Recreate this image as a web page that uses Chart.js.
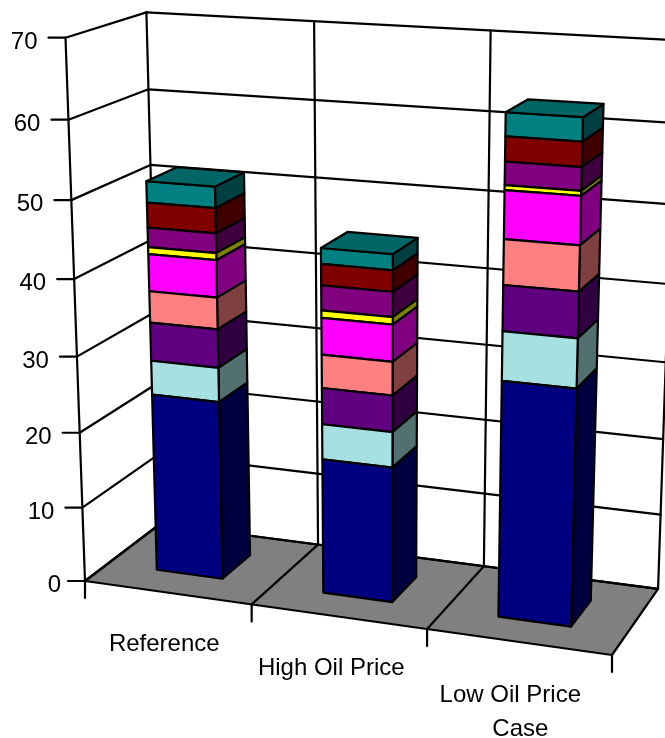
<!DOCTYPE html>
<html>
<head>
<meta charset="utf-8">
<title>Stacked columns by oil price case</title>
<script src="https://cdn.jsdelivr.net/npm/chart.js@4/dist/chart.umd.min.js"></script>
<style>
  html, body { margin: 0; padding: 0; background: #fff; }
  canvas { display: block; }
</style>
</head>
<body>
<canvas id="barChart" width="665" height="738"></canvas>
<script>
const categories = ["Reference", "High Oil Price", ["Low Oil Price", "Case"]];

// one array per stack layer, bottom to top
const layer1 = [23.8, 17.8, 30.4];
const layer2 = [4.5, 4.6, 6.2];
const layer3 = [5.0, 4.7, 5.7];
const layer4 = [4.1, 4.3, 5.6];
const layer5 = [4.8, 4.7, 5.9];
const layer6 = [0.9, 0.95, 0.6];
const layer7 = [2.5, 3.15, 2.8];
const layer8 = [3.2, 2.7, 3.0];
const layer9 = [2.7, 2.0, 2.85];

const layers = [layer1, layer2, layer3, layer4, layer5, layer6, layer7, layer8, layer9];
const layerColors = [
  [0, 0, 128], [166, 224, 224], [96, 0, 128], [255, 128, 128], [255, 0, 255],
  [255, 255, 0], [128, 0, 128], [128, 0, 0], [0, 128, 128]
];

const FONT = '24px "Liberation Sans", Arial, sans-serif';
const LINE = 2.2;

// perspective box: screen spots of the origin and of the far end of each axis,
// with the homogeneous weight of each far end
const O = [85, 581], U = [612, 655], V = [65.5, 37.7], W = [160, 524];
const wU = 0.925, wV = 0.938, wW = 1.065;

function project(u, v, w) {
  const d = 1 + u * (wU - 1) + v * (wV - 1) + w * (wW - 1);
  return [0, 1].map(i =>
    (O[i] + u * (wU * U[i] - O[i]) + v * (wV * V[i] - O[i]) + w * (wW * W[i] - O[i])) / d);
}

function rgb(c, f) {
  return "rgb(" + c.map(n => Math.round(n * f)).join(",") + ")";
}

function poly(ctx, pts, fill) {
  ctx.beginPath();
  pts.forEach((p, i) => (i ? ctx.lineTo(p[0], p[1]) : ctx.moveTo(p[0], p[1])));
  ctx.closePath();
  if (fill) {
    ctx.fillStyle = fill;
    ctx.fill();
  }
  ctx.lineWidth = LINE;
  ctx.strokeStyle = "#000";
  ctx.stroke();
}

function line(ctx, a, b) {
  ctx.beginPath();
  ctx.moveTo(a[0], a[1]);
  ctx.lineTo(b[0], b[1]);
  ctx.lineWidth = LINE;
  ctx.strokeStyle = "#000";
  ctx.stroke();
}

// flat chart-area pixels to box coordinates
function toU(chart, px) {
  const a = chart.chartArea;
  return (px - a.left) / (a.right - a.left);
}
function toV(chart, px) {
  const a = chart.chartArea;
  return (a.bottom - px) / (a.bottom - a.top);
}

const DEPTH_FRONT = 0.3, DEPTH_BACK = 0.7;

// every stacked segment is drawn as a front and a side face of its column
Chart.BarElement.prototype.draw = function (ctx) {
  const chart = this.$chart3d;
  if (!chart) return;
  const u0 = toU(chart, this.x - this.width / 2);
  const u1 = toU(chart, this.x + this.width / 2);
  const v0 = toV(chart, this.base);
  const v1 = toV(chart, this.y);
  const c = this.options.backgroundColor.match(/\d+/g).map(Number);
  ctx.save();
  ctx.lineJoin = "round";
  poly(ctx, [project(u1, v0, DEPTH_FRONT), project(u1, v0, DEPTH_BACK),
             project(u1, v1, DEPTH_BACK), project(u1, v1, DEPTH_FRONT)], rgb(c, 0.5));
  poly(ctx, [project(u0, v0, DEPTH_FRONT), project(u1, v0, DEPTH_FRONT),
             project(u1, v1, DEPTH_FRONT), project(u0, v1, DEPTH_FRONT)], rgb(c, 1));
  ctx.restore();
};

const box3d = {
  id: "box3d",
  beforeDatasetsDraw(chart) {
    const ctx = chart.ctx;
    const { x, y } = chart.scales;
    const n = categories.length;
    chart.getSortedVisibleDatasetMetas().forEach(m => m.data.forEach(el => { el.$chart3d = chart; }));

    ctx.save();
    ctx.lineCap = "round";
    ctx.lineJoin = "round";

    // floor
    poly(ctx, [project(0, 0, 0), project(1, 0, 0), project(1, 0, 1), project(0, 0, 1)], "#808080");
    for (let i = 1; i < n; i++) {
      line(ctx, project(i / n, 0, 0), project(i / n, 0, 1));
    }

    // walls and grid, one pass per y tick
    y.ticks.forEach(t => {
      const v = toV(chart, y.getPixelForValue(t.value));
      const a = project(0, v, 0), b = project(0, v, 1), c = project(1, v, 1);
      line(ctx, a, b);
      line(ctx, b, c);
      line(ctx, [a[0] - 17, a[1]], a);
      ctx.font = FONT;
      ctx.fillStyle = "#000";
      ctx.textAlign = "right";
      ctx.textBaseline = "alphabetic";
      ctx.fillText(String(t.value), a[0] - 17 - (t.value === 0 ? 7 : 11), a[1] + 11);
    });
    line(ctx, project(0, 0, 0), project(0, 1, 0));
    for (let i = 0; i <= n; i++) {
      line(ctx, project(i / n, 0, 1), project(i / n, 1, 1));
      const p = project(i / n, 0, 0);
      line(ctx, p, [p[0], p[1] + 17]);
    }

    // category labels under the front edge
    const labelNudgeX = [[-3], [-7], [-8, 2]];
    const labelNudgeY = [0, 0, 2];
    ctx.font = FONT;
    ctx.fillStyle = "#000";
    ctx.textAlign = "center";
    ctx.textBaseline = "alphabetic";
    categories.forEach((label, i) => {
      const p = project(toU(chart, x.getPixelForTick(i)), 0, 0);
      [].concat(label).forEach((text, k) => {
        ctx.fillText(text, p[0] + labelNudgeX[i][k], p[1] + 58 + labelNudgeY[i] + k * 34);
      });
    });
    ctx.restore();
  },
  afterDatasetsDraw(chart) {
    // lid on top of each column, taken from the last stack layer
    const ctx = chart.ctx;
    const meta = chart.getDatasetMeta(layers.length - 1);
    ctx.save();
    ctx.lineJoin = "round";
    meta.data.forEach(el => {
      const u0 = toU(chart, el.x - el.width / 2);
      const u1 = toU(chart, el.x + el.width / 2);
      const v = toV(chart, el.y);
      poly(ctx, [project(u0, v, DEPTH_FRONT), project(u1, v, DEPTH_FRONT),
                 project(u1, v, DEPTH_BACK), project(u0, v, DEPTH_BACK)],
           rgb(layerColors[layers.length - 1], 0.8));
    });
    ctx.restore();
  }
};

new Chart(document.getElementById("barChart"), {
  type: "bar",
  plugins: [box3d],
  data: {
    labels: categories,
    datasets: layers.map((values, i) => ({
      label: "Layer " + (i + 1),
      data: values,
      backgroundColor: rgb(layerColors[i], 1),
      categoryPercentage: 1,
      barPercentage: 0.4
    }))
  },
  options: {
    responsive: false,
    animation: false,
    layout: { padding: 0 },
    plugins: { legend: { display: false }, tooltip: { enabled: false } },
    scales: {
      x: { stacked: true, display: false },
      y: { stacked: true, display: false, min: 0, max: 70, ticks: { stepSize: 10 } }
    }
  }
});
</script>
</body>
</html>
